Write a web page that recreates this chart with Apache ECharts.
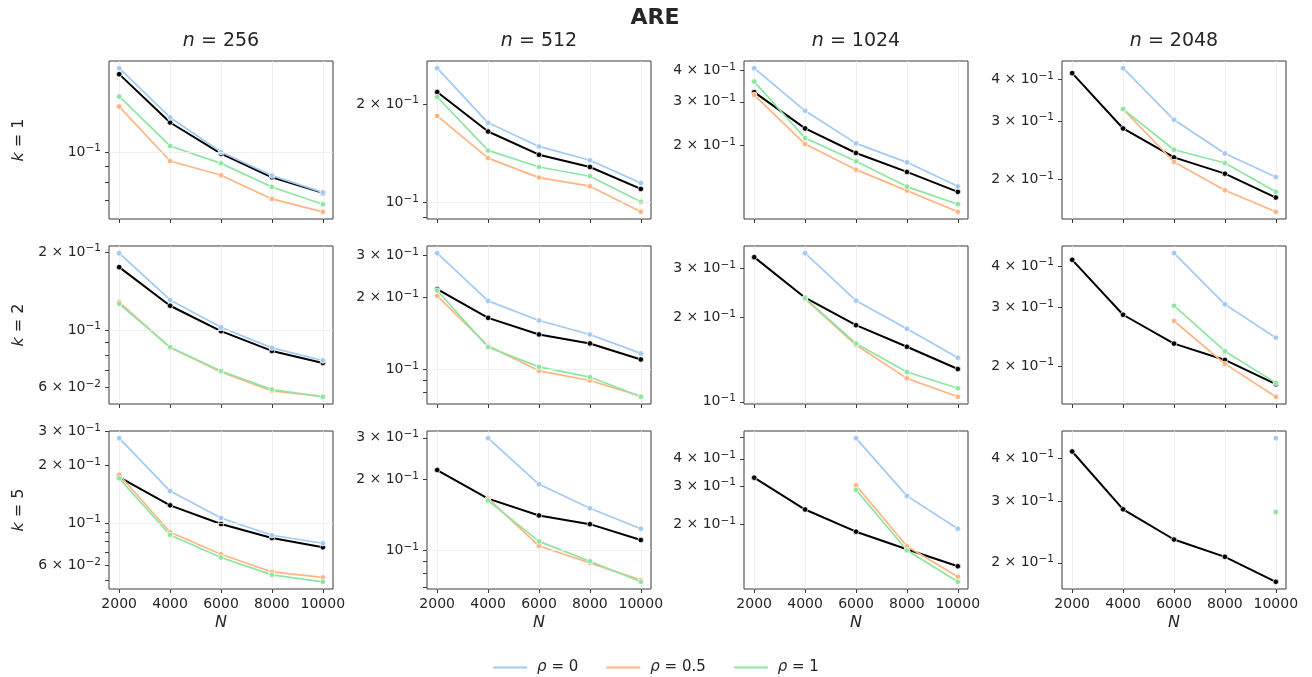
<!DOCTYPE html>
<html>
<head>
<meta charset="utf-8">
<script src="https://cdn.jsdelivr.net/npm/echarts@6/dist/echarts.min.js"></script>
<style>
  html, body { margin: 0; padding: 0; background: #ffffff; }
  #chart { width: 1312px; height: 677px; }
</style>
</head>
<body>
<div id="chart"></div>
<script>
// ---- data -------------------------------------------------------------
const sampleSizes = [2000, 4000, 6000, 8000, 10000];
const nValues = [256, 512, 1024, 2048];
const kValues = [1, 2, 5];
const rhoLabels = ['ρ = 0', 'ρ = 0.5', 'ρ = 1'];

// ARE for each (k, n) panel; null = no estimate at that N
const k1n256 = {
  base:  [0.1769, 0.1241, 0.0988, 0.0831, 0.0741],
  rho0:  [0.1848, 0.1288, 0.1000, 0.0841, 0.0744],
  rho05: [0.1395, 0.0936, 0.0843, 0.0709, 0.0645],
  rho1:  [0.1502, 0.1045, 0.0920, 0.0774, 0.0682]
};
const k1n512 = {
  base:  [0.2175, 0.1647, 0.1399, 0.1283, 0.1100],
  rho0:  [0.2572, 0.1751, 0.1483, 0.1345, 0.1147],
  rho05: [0.1838, 0.1366, 0.1191, 0.1121, 0.0936],
  rho1:  [0.2100, 0.1442, 0.1283, 0.1202, 0.1004]
};
const k1n1024 = {
  base:  [0.3280, 0.2346, 0.1870, 0.1570, 0.1306],
  rho0:  [0.4092, 0.2760, 0.2043, 0.1715, 0.1375],
  rho05: [0.3199, 0.2031, 0.1603, 0.1321, 0.1086],
  rho1:  [0.3616, 0.2147, 0.1731, 0.1371, 0.1165]
};
const k1n2048 = {
  base:  [0.4174, 0.2848, 0.2332, 0.2084, 0.1767],
  rho0:  [null, 0.4320, 0.3024, 0.2397, 0.2037],
  rho05: [null, 0.3256, 0.2259, 0.1858, 0.1601],
  rho1:  [null, 0.3256, 0.2459, 0.2244, 0.1838]
};
const k2n256 = {
  base:  [0.1747, 0.1240, 0.0989, 0.0830, 0.0746],
  rho0:  [0.1978, 0.1305, 0.1024, 0.0853, 0.0762],
  rho05: [0.1281, 0.0855, 0.0688, 0.0582, 0.0554],
  rho1:  [0.1262, 0.0858, 0.0694, 0.0589, 0.0552]
};
const k2n512 = {
  base:  [0.2168, 0.1644, 0.1401, 0.1285, 0.1101],
  rho0:  [0.3067, 0.1936, 0.1603, 0.1401, 0.1167],
  rho05: [0.2032, 0.1255, 0.0987, 0.0899, 0.0773],
  rho1:  [0.2141, 0.1240, 0.1025, 0.0929, 0.0768]
};
const k2n1024 = {
  base:  [0.3289, 0.2356, 0.1879, 0.1573, 0.1310],
  rho0:  [null, 0.3398, 0.2299, 0.1823, 0.1437],
  rho05: [null, 0.2332, 0.1595, 0.1213, 0.1042],
  rho1:  [null, 0.2346, 0.1616, 0.1278, 0.1118]
};
const k2n2048 = {
  base:  [0.4171, 0.2851, 0.2334, 0.2084, 0.1762],
  rho0:  [null, null, 0.4369, 0.3064, 0.2432],
  rho05: [null, null, 0.2730, 0.2028, 0.1614],
  rho1:  [null, null, 0.3035, 0.2214, 0.1778]
};
const k5n256 = {
  base:  [0.1736, 0.1236, 0.0988, 0.0835, 0.0747],
  rho0:  [0.2772, 0.1468, 0.1062, 0.0863, 0.0784],
  rho05: [0.1787, 0.0895, 0.0687, 0.0555, 0.0520],
  rho1:  [0.1710, 0.0866, 0.0660, 0.0536, 0.0493]
};
const k5n512 = {
  base:  [0.2190, 0.1657, 0.1405, 0.1291, 0.1105],
  rho0:  [null, 0.2989, 0.1905, 0.1508, 0.1235],
  rho05: [null, 0.1655, 0.1043, 0.0884, 0.0747],
  rho1:  [null, 0.1625, 0.1091, 0.0899, 0.0735]
};
const k5n1024 = {
  base:  [0.3281, 0.2347, 0.1859, 0.1545, 0.1292],
  rho0:  [null, null, 0.4972, 0.2709, 0.1918],
  rho05: [null, null, 0.3027, 0.1594, 0.1156],
  rho1:  [null, null, 0.2885, 0.1528, 0.1097]
};
const k5n2048 = {
  base:  [0.4178, 0.2849, 0.2334, 0.2081, 0.1764],
  rho0:  [null, null, null, null, 0.4563],
  rho05: [null, null, null, null, 0.2800],
  rho1:  [null, null, null, null, 0.2800]
};

// labelled y ticks per panel (row k, columns n)
const yLabelTicksK1 = [[0.1], [0.1, 0.2], [0.2, 0.3, 0.4], [0.2, 0.3, 0.4]];
const yLabelTicksK2 = [[0.06, 0.1, 0.2], [0.1, 0.2, 0.3], [0.1, 0.2, 0.3], [0.2, 0.3, 0.4]];
const yLabelTicksK5 = [[0.06, 0.1, 0.2, 0.3], [0.1, 0.2, 0.3], [0.2, 0.3, 0.4], [0.2, 0.3, 0.4]];

// ---- layout & style ---------------------------------------------------
const panels = [
  [k1n256, k1n512, k1n1024, k1n2048],
  [k2n256, k2n512, k2n1024, k2n2048],
  [k5n256, k5n512, k5n1024, k5n2048]
];
const yLabelTicks = [yLabelTicksK1, yLabelTicksK2, yLabelTicksK5];

const FONT = 'DejaVu Sans';
const TEXT = '#262626';
const EDGE = '#3b3b3b';
const GRIDLINE = '#ececec';
const rhoKeys = ['rho0', 'rho05', 'rho1'];
const rhoColors = ['#a1c9f4', '#ffb482', '#8de5a1'];

const colLeft = [109, 427, 744, 1062];
const rowTop = [61, 246, 431];
const gridW = 224, gridH = 158;

// "m × 10^e" label with a raised, smaller exponent
function sciLabel(logv) {
  let e = Math.floor(logv + 1e-9);
  let m = Math.round(Math.pow(10, logv - e));
  if (m === 10) { m = 1; e += 1; }
  const exp = (e < 0 ? '\u2212' : '') + Math.abs(e);
  const base = m === 1 ? '10' : m + ' \u00D7 10';
  return '{b|' + base + '}{s|' + exp + '}';
}
const sciRich = {
  b: { fontFamily: FONT, fontSize: 14, color: TEXT, lineHeight: 18 },
  s: { fontFamily: FONT, fontSize: 10.5, color: TEXT, lineHeight: 11, verticalAlign: 'top' }
};

const grids = [], xAxes = [], yAxes = [], series = [];

panels.forEach((row, r) => {
  row.forEach((panel, c) => {
    const idx = r * 4 + c;
    const all = [].concat(panel.base, panel.rho0, panel.rho05, panel.rho1).filter(v => v != null);
    const lmin = Math.log10(Math.min.apply(null, all));
    const lmax = Math.log10(Math.max.apply(null, all));
    const pad = 0.05 * (lmax - lmin);
    const ymin = lmin - pad, ymax = lmax + pad;

    // log tick positions (1..9 x 10^e) inside the axis range
    const tickVals = [];
    for (let e = -3; e <= 1; e++) {
      for (let m = 1; m <= 9; m++) {
        const lv = Math.log10(m) + e;
        if (lv >= ymin && lv <= ymax) tickVals.push(lv);
      }
    }
    const labelVals = yLabelTicks[r][c].map(v => Math.log10(v));

    grids.push({
      left: colLeft[c], top: rowTop[r], width: gridW, height: gridH,
      show: true, borderColor: EDGE, borderWidth: 1, backgroundColor: '#ffffff',
      containLabel: false, outerBoundsMode: 'none'
    });

    xAxes.push({
      type: 'value', gridIndex: idx, min: 1600, max: 10400,
      axisLine: { show: false },
      axisTick: { show: true, customValues: sampleSizes, length: 4, lineStyle: { color: EDGE, width: 1 } },
      axisLabel: { show: r === 2, customValues: sampleSizes, formatter: v => String(v),
        fontFamily: FONT, fontSize: 14, color: TEXT, margin: 8 },
      splitLine: { show: true, lineStyle: { color: GRIDLINE, width: 0.8 } },
      name: r === 2 ? 'N' : '',
      nameLocation: 'middle', nameGap: 26,
      nameTextStyle: { fontFamily: FONT, fontSize: 16, fontStyle: 'italic', color: TEXT }
    });

    yAxes.push({
      type: 'value', gridIndex: idx, min: ymin, max: ymax,
      axisLine: { show: false },
      axisTick: { show: true, customValues: tickVals, length: 4, lineStyle: { color: EDGE, width: 1 } },
      axisLabel: { show: true, customValues: labelVals, formatter: sciLabel,
        rich: sciRich, fontFamily: FONT, fontSize: 14, color: TEXT, margin: 8 },
      splitLine: { show: false }
    });

    const toPoints = arr => sampleSizes
      .map((x, i) => arr[i] == null ? null : [x, Math.log10(arr[i])])
      .filter(p => p !== null);

    const hasDecadeLine = (-1 >= ymin && -1 <= ymax);
    series.push({
      name: 'overall', type: 'line', xAxisIndex: idx, yAxisIndex: idx,
      data: toPoints(panel.base),
      symbol: 'circle', symbolSize: 5.5,
      itemStyle: { color: '#000000', borderColor: '#ffffff', borderWidth: 0.7 },
      lineStyle: { color: '#000000', width: 2 },
      emphasis: { disabled: true }, silent: true,
      markLine: hasDecadeLine ? {
        silent: true, symbol: ['none', 'none'], label: { show: false },
        lineStyle: { color: GRIDLINE, width: 0.8, type: 'solid' },
        emphasis: { disabled: true }, animation: false,
        data: [{ yAxis: -1 }]
      } : undefined
    });
    rhoKeys.forEach((key, j) => {
      series.push({
        name: rhoLabels[j], type: 'line', xAxisIndex: idx, yAxisIndex: idx,
        data: toPoints(panel[key]),
        symbol: 'circle', symbolSize: 5.5, showSymbol: true,
        itemStyle: { color: rhoColors[j], borderColor: '#ffffff', borderWidth: 0.7 },
        lineStyle: { color: rhoColors[j], width: 1.7 },
        emphasis: { disabled: true }, silent: true
      });
    });
  });
});

// titles and row labels
const graphics = [{
  type: 'text', x: 655, y: 18,
  style: { text: 'ARE', fontFamily: FONT, fontSize: 22, fontWeight: 'bold', fill: TEXT,
    align: 'center', verticalAlign: 'middle' }
}];
nValues.forEach((n, c) => {
  graphics.push({
    type: 'text', x: colLeft[c] + gridW / 2, y: 41,
    style: {
      text: '{i|n} = ' + n, align: 'center', verticalAlign: 'middle',
      fontFamily: FONT, fontSize: 19, fill: TEXT,
      rich: { i: { fontFamily: FONT, fontSize: 19, fontStyle: 'italic', fill: TEXT } }
    }
  });
});
kValues.forEach((k, r) => {
  graphics.push({
    type: 'text', x: 19, y: rowTop[r] + gridH / 2, rotation: Math.PI / 2,
    style: {
      text: '{i|k} = ' + k, align: 'center', verticalAlign: 'middle',
      fontFamily: FONT, fontSize: 16, fill: TEXT,
      rich: { i: { fontFamily: FONT, fontSize: 16, fontStyle: 'italic', fill: TEXT } }
    }
  });
});

const chart = echarts.init(document.getElementById('chart'), null, { renderer: 'canvas' });
chart.setOption({
  animation: false,
  backgroundColor: '#ffffff',
  grid: grids,
  xAxis: xAxes,
  yAxis: yAxes,
  series: series,
  graphic: graphics,
  legend: {
    data: rhoLabels, top: 655, left: 'center',
    icon: 'rect', itemWidth: 34, itemHeight: 2, itemGap: 28,
    itemStyle: { borderWidth: 0 },
    formatter: name => name.replace('ρ', '{i|ρ}'),
    textStyle: {
      fontFamily: FONT, fontSize: 15, color: TEXT, padding: [0, 0, 0, 5],
      rich: { i: { fontFamily: FONT, fontSize: 15, fontStyle: 'italic', color: TEXT } }
    },
    selectedMode: false
  }
});
</script>
</body>
</html>
